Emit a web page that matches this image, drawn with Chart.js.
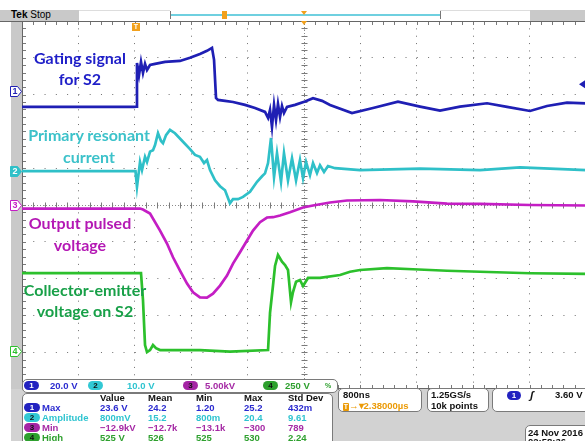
<!DOCTYPE html>
<html>
<head>
<meta charset="utf-8">
<script src="https://cdn.jsdelivr.net/npm/chart.js@4.4.1/dist/chart.umd.min.js"></script>
<style>
  html, body { margin: 0; padding: 0; background: #fff; overflow: hidden; }
  #wrap { position: relative; width: 585px; height: 441px; overflow: hidden; font-family: 'Liberation Sans', Arial, sans-serif; }
  .abs { position: absolute; }
  canvas { position: absolute; left: 0; top: 0; }
  .note { position: absolute; width: 200px; text-align: center; font: bold 16px Lato, sans-serif; line-height: 16px; white-space: nowrap; }
  .box { position: absolute; background: #fff; border: 1px solid #7a7a7a; border-radius: 5px; box-sizing: border-box; }
  .t { position: absolute; font: bold 9.5px 'Liberation Sans', Arial, sans-serif; line-height: 10px; white-space: nowrap; color: #111; }
  .pill { position: absolute; width: 15px; height: 9px; border-radius: 5px; font: bold 8px 'Liberation Sans', Arial, sans-serif; line-height: 9px; text-align: center; color: #111; }
</style>
</head>
<body>
<div id="wrap">
  <!-- frame pieces behind the canvas -->
  <div class="abs" style="left:11px;top:21px;width:11px;height:420px;background:#c9c9c9"></div>
  <div class="abs" style="left:11px;top:389px;width:574px;height:52px;background:#d2d2d2"></div>
  <div class="abs" style="left:0;top:10px;width:79px;height:11px;background:#c9c9c9"></div>
  <div class="abs" style="left:79px;top:10px;width:91px;height:10px;border-top:1px solid #ddd"></div>
  <div class="abs" style="left:440px;top:10px;width:90px;height:10px;border-top:1px solid #ddd"></div>
  <div class="abs" style="left:530px;top:10px;width:55px;height:11px;background:#c9c9c9"></div>
  <div class="abs" style="left:170px;top:11px;width:269px;height:8px;border-left:1px solid #777;border-right:1px solid #777"></div>
  <div class="abs" style="left:171px;top:14px;width:269px;height:2px;background:#6fd0e0"></div>
  <div class="abs" style="left:222px;top:11px;width:5px;height:8px;background:#f2a11c"></div>
  <div class="abs" style="left:301px;top:11px;width:0;height:0;border-left:3px solid transparent;border-right:3px solid transparent;border-top:4px solid #f2a11c"></div>
  <div class="t" style="left:11px;top:10px;font-size:10px;color:#000">Tek <span style="font-weight:normal">Stop</span></div>

  <canvas id="scope" width="586" height="441"></canvas>

  <!-- trace annotations -->
  <div class="note" style="left:-20px;top:50px;color:#1e1ec8">Gating signal</div>
  <div class="note" style="left:-20px;top:71px;color:#1e1ec8">for S2</div>
  <div class="note" style="left:-11px;top:127px;color:#3cc2ca">Primary resonant</div>
  <div class="note" style="left:-11px;top:149px;color:#3cc2ca">current</div>
  <div class="note" style="left:-20px;top:215px;color:#b418b4">Output pulsed</div>
  <div class="note" style="left:-20px;top:237px;color:#b418b4">voltage</div>
  <div class="note" style="left:-15px;top:282px;color:#18a048">Collector-emitter</div>
  <div class="note" style="left:-15px;top:303px;color:#18a048">voltage on S2</div>

  <!-- channel scale bar -->
  <div class="box" style="left:22px;top:379px;width:316px;height:14px"></div>
  <div class="pill" style="left:24px;top:381px;background:#2222c0;color:#fff">1</div>
  <div class="t" style="left:50px;top:381px;color:#2b2bd0">20.0 V</div>
  <div class="pill" style="left:88px;top:381px;background:#32c8d4">2</div>
  <div class="t" style="left:127px;top:381px;color:#2ec4d0">10.0 V</div>
  <div class="pill" style="left:183px;top:381px;background:#a424a4">3</div>
  <div class="t" style="left:205px;top:381px;color:#a52aa5">5.00kV</div>
  <div class="pill" style="left:263px;top:381px;background:#2ea02e">4</div>
  <div class="t" style="left:285px;top:381px;color:#2ea02e">250 V</div>
  <div class="t" style="left:325px;top:381px;font-size:7px;color:#2ea02e">%</div>

  <!-- measurement table -->
  <div class="box" style="left:22px;top:393px;width:311px;height:60px"></div>
  <div id="meas"></div>

  <!-- timebase / acquisition / trigger boxes -->
  <div class="box" style="left:338px;top:388px;width:84px;height:24px"></div>
  <div class="t" style="left:343px;top:390px">800ns</div>
  <div class="t" style="left:343px;top:401px;color:#eb9a06"><span style="display:inline-block;width:6px;height:8px;background:#eb9a06;color:#fff;font-size:7px;line-height:8px;text-align:center;border-radius:1px">T</span>→▾2.38000µs</div>
  <div class="box" style="left:427px;top:388px;width:62px;height:24px"></div>
  <div class="t" style="left:431px;top:390px">1.25GS/s</div>
  <div class="t" style="left:431px;top:401px">10k points</div>
  <div class="box" style="left:492px;top:388px;width:100px;height:24px"></div>
  <div class="pill" style="left:507px;top:391px;width:14px;background:#2222c0;color:#fff">1</div>
  <div class="t" style="left:530px;top:390px;font-size:11px;font-style:italic">ʃ</div>
  <div class="t" style="left:555px;top:390px">3.60 V</div>
  <div class="box" style="left:525px;top:425px;width:70px;height:25px"></div>
  <div class="t" style="left:528px;top:428px">24 Nov 2016</div>
  <div class="t" style="left:528px;top:437px">02:58:36</div>
</div>

<script>
// horizontal: µs, 800 ns/div, centre of screen 2.38 µs after the trigger
const tCenter = 2.38;
const tDiv = 0.8;
const tMin = tCenter - 5 * tDiv;
const tMax = tCenter + 5 * tDiv;
const trigLevel = 3.60; // V on channel 1

// [time µs, value]
const gateS2 = [ // ch1, V
  [-1.62, -8.7], [-0.03, -8.7], [0.0, -8.5], [0.011, 15.2], [0.04, 8.7], [0.068, 15.8], [0.096, 9.8],
  [0.125, 14.7], [0.153, 11.4], [0.196, 14.1], [0.267, 14.7], [0.409, 15.8], [0.621, 16.3], [0.763, 18.0],
  [0.904, 20.1], [1.004, 21.8], [1.075, 23.4], [1.104, 16.9], [1.132, -3.8], [1.16, -4.9], [1.26, -5.4],
  [1.373, -6.0], [1.543, -7.6], [1.685, -9.3], [1.827, -11.4], [1.87, -14.7], [1.898, -10.3], [1.926, -19.6],
  [1.955, -7.6], [1.983, -15.8], [2.011, -7.1], [2.04, -14.1], [2.068, -8.2], [2.096, -12.0], [2.139, -8.7],
  [2.253, -7.6], [2.394, -5.8], [2.508, -4.0], [2.636, -5.4], [2.749, -7.6], [3.061, -12.0], [3.359, -9.3],
  [3.713, -5.8], [4.026, -8.5], [4.309, -10.7], [4.593, -8.5], [4.976, -6.7], [5.26, -8.7], [5.586, -10.9],
  [5.827, -8.2], [6.111, -6.4], [6.38, -6.8]
];
const resCurrent = [ // ch2
  [-1.62, 0.0], [-0.01, 0.0], [0.011, -4.3], [0.054, 2.5], [0.082, 0.3], [0.125, 3.9], [0.153, 2.5],
  [0.196, 5.3], [0.238, 5.7], [0.267, 7.1], [0.309, 10.3], [0.352, 8.2], [0.38, 7.6], [0.423, 9.8],
  [0.479, 11.2], [0.55, 10.3], [0.664, 8.0], [0.763, 6.0], [0.834, 4.4], [0.904, 3.9], [0.962, 2.2],
  [1.004, 3.0], [1.047, 0.3], [1.118, -2.5], [1.189, -4.1], [1.26, -5.2], [1.33, -8.7], [1.373, -7.6],
  [1.444, -7.6], [1.515, -7.0], [1.614, -5.6], [1.714, -2.9], [1.785, -1.4], [1.827, -0.6], [1.87, 2.2],
  [1.912, 9.0], [1.955, -1.6], [1.997, 4.9], [2.054, -2.9], [2.096, 4.9], [2.153, -2.5], [2.21, 3.5],
  [2.267, -2.5], [2.323, 3.0], [2.366, -1.9], [2.409, 2.5], [2.465, -1.1], [2.508, 2.2], [2.564, -0.5],
  [2.607, 1.6], [2.664, -0.2], [2.72, 1.4], [2.82, 0.8], [3.174, 0.3], [4.026, 0.7], [4.877, 0.3],
  [5.444, 1.0], [6.38, 0.3]
];
const outVoltage = [ // ch3, kV
  [-1.62, -0.48], [0.054, -0.48], [0.096, -0.61], [0.196, -1.16], [0.338, -3.47], [0.437, -5.24],
  [0.522, -7.10], [0.621, -8.91], [0.721, -10.68], [0.806, -11.86], [0.904, -12.54], [1.004, -12.58],
  [1.089, -12.04], [1.189, -10.95], [1.288, -9.59], [1.373, -7.96], [1.472, -6.42], [1.572, -4.83],
  [1.657, -3.47], [1.756, -2.34], [1.855, -1.70], [1.941, -1.66], [2.04, -1.43], [2.181, -0.98],
  [2.366, -0.34], [2.508, -0.07], [2.749, 0.34], [2.99, 0.61], [3.458, 0.68], [3.926, 0.48],
  [4.409, 0.20], [4.877, 0.14], [5.586, 0.0], [6.38, -0.07]
];
const vceS2 = [ // ch4, V
  [-1.62, 530], [0.068, 530], [0.096, 347], [0.125, 41], [0.153, -7], [0.196, 7], [0.238, 41],
  [0.281, 20], [0.338, 7], [0.904, 7], [1.33, -3], [1.87, 7], [1.898, 259], [1.941, 449], [1.969, 578],
  [2.011, 653], [2.068, 607], [2.111, 585], [2.153, 551], [2.196, 333], [2.224, 401], [2.267, 471],
  [2.323, 483], [2.366, 442], [2.437, 497], [2.607, 497], [2.891, 517], [3.033, 539], [3.174, 551],
  [3.557, 563], [3.926, 556], [4.409, 546], [4.877, 539], [5.586, 529], [6.38, 524]
];

// volts/div and ground position (divisions from the bottom of the screen)
const channels = [
  { name: '1', data: gateS2, scale: 20, pos: 8.1, color: '#1f1fb4' },
  { name: '2', data: resCurrent, scale: 10, pos: 5.92, color: '#2fc0c8', solid: true },
  { name: '3', data: outVoltage, scale: 5, pos: 5.0, color: '#c41ec4' },
  { name: '4', data: vceS2, scale: 250, pos: 1.03, color: '#2cc02c' }
];

const measHead = ['Value', 'Mean', 'Min', 'Max', 'Std Dev'];
const measRows = [
  { ch: '1', label: 'Max', vals: ['23.6 V', '24.2', '1.20', '25.2', '432m'], color: '#2b2bd0', pill: '#2222c0', pillText: '#fff' },
  { ch: '2', label: 'Amplitude', vals: ['800mV', '15.2', '800m', '20.4', '9.61'], color: '#2ec4d0', pill: '#32c8d4', pillText: '#111' },
  { ch: '3', label: 'Min', vals: ['\u221212.9kV', '\u221212.7k', '\u221213.1k', '\u2212300', '789'], color: '#a52aa5', pill: '#a424a4', pillText: '#111' },
  { ch: '4', label: 'High', vals: ['525 V', '526', '525', '530', '2.24'], color: '#2ea02e', pill: '#2ea02e', pillText: '#111' }
];
const measCols = [100, 148, 196, 244, 288];

// measurement table
const meas = document.getElementById('meas');
let html = '';
measHead.forEach((h, i) => {
  html += `<div class="t" style="left:${measCols[i]}px;top:393px">${h}</div>`;
});
measRows.forEach((r, j) => {
  const top = 403 + j * 10;
  html += `<div class="pill" style="left:24px;top:${top}px;width:16px;background:${r.pill};color:${r.pillText}">${r.ch}</div>`;
  html += `<div class="t" style="left:42px;top:${top}px;color:${r.color}">${r.label}</div>`;
  r.vals.forEach((v, i) => {
    html += `<div class="t" style="left:${measCols[i]}px;top:${top}px;color:${r.color}">${v}</div>`;
  });
});
meas.innerHTML = html;

// graticule centre lines, rulers and on-screen markers
const scopeMarks = {
  id: 'scopeMarks',
  beforeDatasetsDraw(chart) {
    const { ctx, chartArea: a, scales: { x, y } } = chart;
    const minorX = (x.getPixelForValue(tMin + tDiv) - x.getPixelForValue(tMin)) / 5;
    const minorY = (y.getPixelForValue(0) - y.getPixelForValue(1)) / 5;
    const cx = Math.round(x.getPixelForValue(tCenter)) + 0.5;
    const cy = Math.round(y.getPixelForValue(5)) + 0.5;
    ctx.save();
    ctx.lineWidth = 1;
    ctx.strokeStyle = '#8a8a8a';
    ctx.setLineDash([1, 2]);
    ctx.beginPath();
    ctx.moveTo(cx, a.top); ctx.lineTo(cx, a.bottom);
    ctx.moveTo(a.left, cy); ctx.lineTo(a.right, cy);
    ctx.stroke();
    ctx.setLineDash([]);
    ctx.strokeStyle = '#7a7a7a';
    ctx.beginPath();
    for (let k = 0; k <= 50; k++) {
      const py = Math.round(a.top + k * minorY) + 0.5;
      ctx.moveTo(cx - 3, py); ctx.lineTo(cx + 3, py);
      ctx.moveTo(a.left, py); ctx.lineTo(a.left + 4, py);
      const px = Math.round(a.left + k * minorX) + 0.5;
      ctx.moveTo(px, cy - 3); ctx.lineTo(px, cy + 3);
      ctx.moveTo(px, a.top); ctx.lineTo(px, a.top + 4);
      ctx.moveTo(px, a.bottom); ctx.lineTo(px, a.bottom - 4);
    }
    ctx.stroke();
    ctx.strokeStyle = '#666';
    ctx.beginPath();
    ctx.moveTo(0, a.top + 0.5); ctx.lineTo(a.right, a.top + 0.5);
    ctx.moveTo(a.left + 0.5, a.top); ctx.lineTo(a.left + 0.5, a.bottom);
    ctx.moveTo(a.left, a.bottom - 0.5); ctx.lineTo(a.right, a.bottom - 0.5);
    ctx.stroke();
    ctx.restore();
  },
  afterDraw(chart) {
    const { ctx, chartArea: a, scales: { x, y } } = chart;
    ctx.save();
    ctx.lineWidth = 1;
    ctx.font = 'bold 9px "Liberation Sans", Arial, sans-serif';
    ctx.textAlign = 'center';
    ctx.textBaseline = 'middle';
    // channel ground markers
    channels.forEach(ch => {
      const py = Math.round(y.getPixelForValue(ch.pos)) + 0.5;
      ctx.beginPath();
      ctx.moveTo(10.5, py - 5); ctx.lineTo(17.5, py - 5); ctx.lineTo(21.5, py);
      ctx.lineTo(17.5, py + 5); ctx.lineTo(10.5, py + 5); ctx.closePath();
      ctx.fillStyle = ch.solid ? ch.color : '#fff';
      ctx.fill();
      ctx.strokeStyle = ch.color;
      ctx.stroke();
      ctx.fillStyle = ch.solid ? '#fff' : ch.color;
      ctx.fillText(ch.name, 15, py + 0.5);
    });
    // trigger point
    const tx = Math.round(x.getPixelForValue(0));
    ctx.fillStyle = '#f2a11c';
    ctx.fillRect(tx - 4, a.top + 2, 8, 8);
    ctx.fillStyle = '#fff';
    ctx.font = 'bold 7px "Liberation Sans", Arial, sans-serif';
    ctx.fillText('T', tx, a.top + 6.5);
    // expansion point
    const ex = Math.round(x.getPixelForValue(tCenter));
    ctx.fillStyle = '#f2a11c';
    ctx.beginPath();
    ctx.moveTo(ex - 3, a.top); ctx.lineTo(ex + 3, a.top); ctx.lineTo(ex, a.top + 4); ctx.closePath();
    ctx.fill();
    // trigger level on channel 1
    const ch1 = channels[0];
    const ly = y.getPixelForValue(ch1.pos + trigLevel / ch1.scale);
    ctx.fillStyle = ch1.color;
    ctx.beginPath();
    ctx.moveTo(579, ly); ctx.lineTo(585, ly - 4); ctx.lineTo(585, ly + 4); ctx.closePath();
    ctx.fill();
    ctx.restore();
  }
};

const datasets = channels.map(ch => ({
  label: 'CH' + ch.name,
  data: ch.data.map(([t, v]) => ({ x: t, y: ch.pos + v / ch.scale })),
  borderColor: ch.color,
  borderWidth: 2.7,
  pointRadius: 0,
  tension: 0,
  fill: false
}));

new Chart(document.getElementById('scope').getContext('2d'), {
  type: 'line',
  data: { datasets },
  options: {
    responsive: false,
    animation: false,
    events: [],
    layout: { padding: { left: 22, top: 21, right: 0, bottom: 52 } },
    plugins: { legend: { display: false }, tooltip: { enabled: false } },
    scales: {
      x: {
        type: 'linear',
        min: tMin,
        max: tMax,
        afterBuildTicks: scale => {
          const ticks = [];
          for (let i = 0; i <= 10; i++) ticks.push({ value: tMin + i * tDiv });
          scale.ticks = ticks;
        },
        ticks: { display: false },
        grid: { color: '#6f6f6f', lineWidth: 1, drawTicks: false },
        border: { display: false, dash: [1, 6.36] }
      },
      y: {
        type: 'linear',
        min: 0,
        max: 10,
        ticks: { display: false, stepSize: 1 },
        grid: { color: '#6f6f6f', lineWidth: 1, drawTicks: false },
        border: { display: false, dash: [1, 10.28] }
      }
    }
  },
  plugins: [scopeMarks]
});
</script>
</body>
</html>
